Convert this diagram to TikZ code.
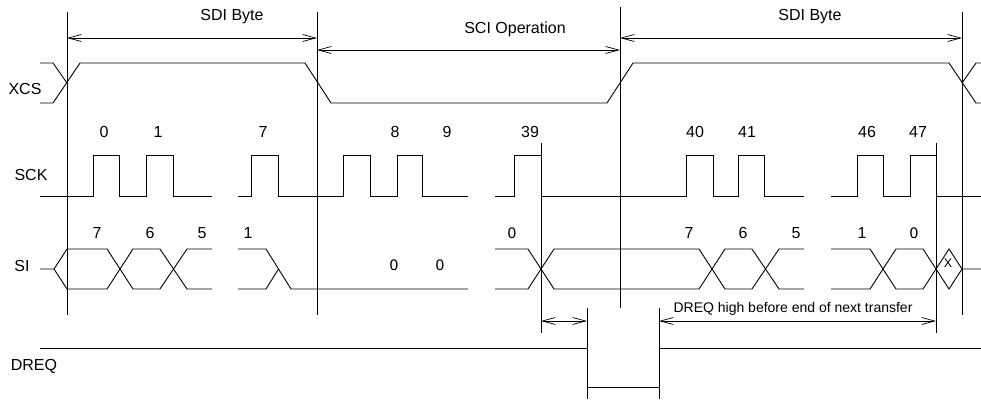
\documentclass[tikz,border=0pt]{standalone}
\usepackage{fontspec}
\setmainfont{Liberation Sans}
\newfontfamily\zerofont{DejaVu Sans}
\usepackage{tikz}
\usetikzlibrary{arrows.meta, positioning}

\tikzset{
    sig/.style={line width=0.9pt},
    guide/.style={line width=0.9pt},
    dim/.style={line width=0.7pt, <->},
    lbl/.style={anchor=base, inner sep=0pt, font=\fontsize{16}{19}\selectfont},
    small/.style={anchor=base, inner sep=0pt, font=\fontsize{14}{17}\selectfont},
    zero/.style={anchor=base, inner sep=0pt, font=\zerofont\fontsize{14.5}{17}\selectfont}
}

\begin{document}
\begin{tikzpicture}[x=1pt, y=-1pt, >={Straight Barb[length=13pt, width=7pt]}]
    \useasboundingbox (0,0) rectangle (981,399);

    % Guide lines
    \draw [guide] (67,12) -- (67,315);
    \draw [guide] (317,12) -- (317,315);
    \draw [guide] (620,7) -- (620,308);
    \draw [guide] (962,12) -- (962,315);
    \draw [guide] (541,143) -- (541,333);
    \draw [guide] (936,143) -- (936,333);
    \draw [guide] (587,308) -- (587,399);
    \draw [guide] (659,308) -- (659,399);

    % Dimension ends
    \coordinate (sdiL) at (67,38);
    \coordinate (sdiR) at (317,38);
    \coordinate (sciL) at (317,50);
    \coordinate (sciR) at (620,50);
    \coordinate (sdi2L) at (620,38);
    \coordinate (sdi2R) at (962,38);
    \coordinate (waitL) at (541,321);
    \coordinate (waitR) at (587,321);
    \coordinate (dreqL) at (659,321);
    \coordinate (dreqR) at (936,321);

    \draw [dim] (sdiL) -- (sdiR);
    \draw [dim] (sciL) -- (sciR);
    \draw [dim] (sdi2L) -- (sdi2R);
    \draw [dim] (waitL) -- (waitR);
    \draw [dim] (dreqL) -- (dreqR);

    \node [lbl] (sdi1) at (232,20) {SDI Byte};
    \node [lbl] (sci) at (515,33) {SCI Operation};
    \node [lbl] (sdi2) at (810,20) {SDI Byte};
    \node [small] (dreqtxt) at (793,312) {DREQ high before end of next transfer};

    % Signal names
    \node [lbl] (xcs) at (25,94) {XCS};
    \node [lbl] (sck) at (31,180) {SCK};
    \node [lbl] (si) at (22,271) {SI};
    \node [lbl] (dreq) at (34,370) {DREQ};

    % XCS
    \draw [sig] (40,63) -- (53,63) -- (67,83);
    \draw [sig] (40,103) -- (53,103) -- (80,63) -- (305,63) -- (331,103) -- (607,103)
        -- (633,63) -- (949,63) -- (976,103) -- (981,103);
    \draw [sig] (962,83) -- (976,63) -- (981,63);

    % SCK
    \draw [sig] (40,196) -| (93,155) -| (119,196) -| (146,155) -| (173,196) -- (212,196);
    \draw [sig] (238,196) -| (251,155) -| (278,196) -| (343,155) -| (370,196)
        -| (397,155) -| (422,196) -- (468,196);
    \draw [sig] (495,196) -| (514,155) -| (541,196) -| (686,155) -| (713,196)
        -| (738,155) -| (764,196) -- (804,196);
    \draw [sig] (831,196) -| (857,155) -| (883,196) -| (910,155) -| (936,196) -- (981,196);

    \node [lbl] (c0) at (104,137) {0};
    \node [lbl] (c1) at (158,137) {1};
    \node [lbl] (c7) at (263,137) {7};
    \node [lbl] (c8) at (395,137) {8};
    \node [lbl] (c9) at (447,137) {9};
    \node [lbl] (c39) at (530,137) {39};
    \node [lbl] (c40) at (695,137) {40};
    \node [lbl] (c41) at (747,137) {41};
    \node [lbl] (c46) at (867,137) {46};
    \node [lbl] (c47) at (918,137) {47};

    % SI
    \draw [sig] (40,269) -- (54,269) -- (67,249) -- (107,249) -- (133,289) -- (160,289)
        -- (187,249) -- (212,249);
    \draw [sig] (54,269) -- (67,289) -- (107,289) -- (133,249) -- (160,249) -- (187,289)
        -- (212,289);
    \draw [sig] (238,249) -- (266,249) -- (291,289) -- (468,289);
    \draw [sig] (238,289) -- (266,289) -- (278.5,269);
    \draw [sig] (495,249) -- (528,249) -- (554,289) -- (699,289) -- (725,249) -- (752,249)
        -- (779,289) -- (804,289);
    \draw [sig] (495,289) -- (528,289) -- (554,249) -- (699,249) -- (725,289) -- (752,289)
        -- (779,249) -- (804,249);
    \draw [sig] (831,249) -- (870,249) -- (896,289) -- (923,289) -- (936,269) -- (949,249)
        -- (962,269) -- (981,269);
    \draw [sig] (831,289) -- (870,289) -- (896,249) -- (923,249) -- (936,269) -- (949,289)
        -- (962,269);

    \node [lbl] (d7) at (97,238) {7};
    \node [lbl] (d6) at (150,238) {6};
    \node [lbl] (d5) at (202,238) {5};
    \node [lbl] (d1) at (248,238) {1};
    \node [zero] (d8) at (394,270) {0};
    \node [zero] (d9) at (440,270) {0};
    \node [zero] (d39) at (512,238) {0};
    \node [lbl] (e7) at (689,238) {7};
    \node [lbl] (e6) at (743,238) {6};
    \node [lbl] (e5) at (796,238) {5};
    \node [lbl] (e1) at (862,238) {1};
    \node [zero] (e0) at (914,238) {0};
    \node [anchor=base, inner sep=0pt, font=\fontsize{12.5}{15}\selectfont] (dx) at (948,267) {X};

    % DREQ
    \draw [sig] (40,348) -- (587,348) -- (587,387) -- (659,387) -- (659,348) -- (981,348);
\end{tikzpicture}
\end{document}
